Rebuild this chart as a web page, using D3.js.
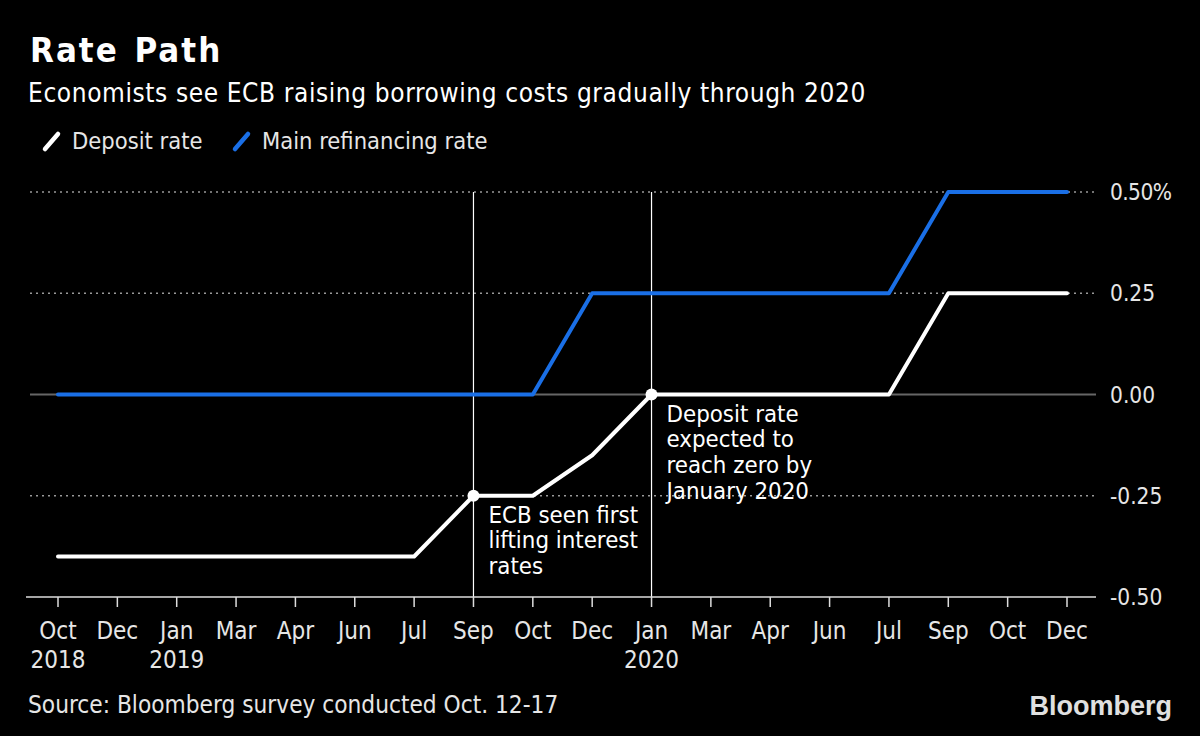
<!DOCTYPE html>
<html><head><meta charset="utf-8">
<script src="https://cdn.jsdelivr.net/npm/d3@7"></script>
<style>
body{margin:0;background:#000;}
svg{display:block;}
text{font-family:"DejaVu Sans Condensed","DejaVu Sans",sans-serif;}
</style></head>
<body><svg id="c" width="1200" height="736"></svg>
<script>
const months = ["Oct","Dec","Jan","Mar","Apr","Jun","Jul","Sep","Oct","Dec","Jan","Mar","Apr","Jun","Jul","Sep","Oct","Dec"];
const years = ["2018","","2019","","","","","","","","2020","","","","","","",""];
const depositRate = [-0.40,-0.40,-0.40,-0.40,-0.40,-0.40,-0.40,-0.25,-0.25,-0.15,0,0,0,0,0,0.25,0.25,0.25];
const refiRate = [0,0,0,0,0,0,0,0,0,0.25,0.25,0.25,0.25,0.25,0.25,0.50,0.50,0.50];
const yTicks = [0.5,0.25,0,-0.25,-0.5];
const yTickLabels = ["0.50%","0.25","0.00","-0.25","-0.50"];
const annotations = [
  {idx:7, value:-0.25, lines:["ECB seen first","lifting interest","rates"]},
  {idx:10, value:0, lines:["Deposit rate","expected to","reach zero by","January 2020"]}
];

const svg = d3.select("#c");
const x = d3.scaleLinear().domain([0, months.length-1]).range([58, 1067]);
const y = d3.scaleLinear().domain([-0.5, 0.5]).range([597, 192]);

// title
svg.append("text").attr("x",30).attr("y",62).attr("fill","#fff").attr("font-size",34.5).attr("font-weight","bold")
  .attr("letter-spacing",2).attr("word-spacing",3).text("Rate Path");
svg.append("text").attr("x",28).attr("y",102).attr("fill","#fff").attr("font-size",26).attr("letter-spacing",0.6)
  .text("Economists see ECB raising borrowing costs gradually through 2020");

// legend
const legend = [{label:"Deposit rate", color:"#fff", x:45},{label:"Main refinancing rate", color:"#1a6fe6", x:235}];
legend.forEach(l=>{
  svg.append("line").attr("x1",l.x).attr("y1",149).attr("x2",l.x+13).attr("y2",134).attr("stroke",l.color).attr("stroke-width",4.5).attr("stroke-linecap","round");
  svg.append("text").attr("x",l.x+27).attr("y",149).attr("fill","#e6e6e6").attr("font-size",23.5).text(l.label);
});

// gridlines
yTicks.forEach(t=>{
  if (t===-0.5) return;
  svg.append("line").attr("x1",30).attr("x2",1096).attr("y1",y(t)).attr("y2",y(t))
    .attr("stroke", t===0 ? "#666" : "#999").attr("stroke-width", t===0?2:1.5)
    .attr("stroke-dasharray", t===0 ? null : "2,4");
});
// y labels
yTicks.forEach((t,i)=>{
  svg.append("text").attr("x", 1110).attr("y",y(t)+8).attr("fill","#e6e6e6").attr("font-size",22.5)
    .attr("letter-spacing", i===0 ? -0.6 : 0).text(yTickLabels[i]);
});

// vertical annotation lines
annotations.forEach(a=>{
  svg.append("line").attr("x1",x(a.idx)).attr("x2",x(a.idx)).attr("y1",192).attr("y2",597).attr("stroke","#fff").attr("stroke-width",1.2);
});

// bottom axis
svg.append("line").attr("x1",26).attr("x2",1096).attr("y1",597).attr("y2",597).attr("stroke","#ddd").attr("stroke-width",1.5);
months.forEach((m,i)=>{
  svg.append("line").attr("x1",x(i)).attr("x2",x(i)).attr("y1",597).attr("y2",607).attr("stroke","#ddd").attr("stroke-width",1.5);
  svg.append("text").attr("x",x(i)).attr("y",639).attr("text-anchor","middle").attr("fill","#e6e6e6").attr("font-size",24).text(m);
  if (years[i]) svg.append("text").attr("x",x(i)).attr("y",668).attr("text-anchor","middle").attr("fill","#e6e6e6").attr("font-size",24).text(years[i]);
});

// lines
const line = d3.line().x((d,i)=>x(i)).y(d=>y(d));
svg.append("path").datum(refiRate).attr("d",line).attr("fill","none").attr("stroke","#1a6fe6").attr("stroke-width",4).attr("stroke-linejoin","round").attr("stroke-linecap","round");
svg.append("path").datum(depositRate).attr("d",line).attr("fill","none").attr("stroke","#fff").attr("stroke-width",4).attr("stroke-linejoin","round").attr("stroke-linecap","round");

// annotation dots and text
annotations.forEach(a=>{
  svg.append("circle").attr("cx",x(a.idx)).attr("cy",y(a.value)).attr("r",6).attr("fill","#fff");
  const t = svg.append("text").attr("y",y(a.value)+27).attr("fill","#fff").attr("font-size",23.8);
  a.lines.forEach((ln,k)=>t.append("tspan").attr("x",x(a.idx)+15).attr("dy",k===0?0:25.7).text(ln));
});

// source & logo
svg.append("text").attr("x",28).attr("y",713).attr("fill","#e6e6e6").attr("font-size",24.2).text("Source: Bloomberg survey conducted Oct. 12-17");
svg.append("text").attr("x",1172).attr("y",715).attr("text-anchor","end").attr("fill","#e0e0e0").attr("font-size",27).attr("font-weight","bold").style("font-family","'Liberation Sans',Arial,sans-serif").text("Bloomberg");
</script></body></html>
